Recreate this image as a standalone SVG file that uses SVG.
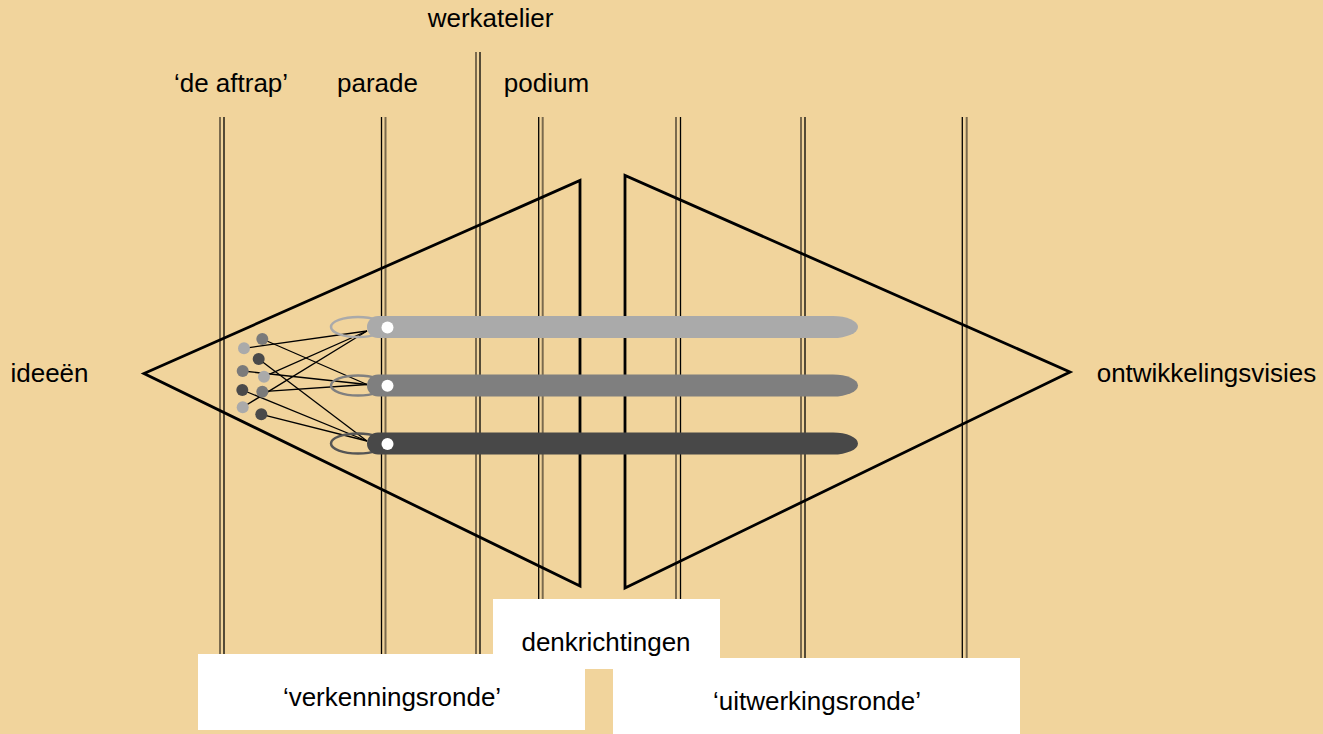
<svg xmlns="http://www.w3.org/2000/svg" width="1323" height="734" viewBox="0 0 1323 734">
<style>
.t{font-family:"Liberation Sans",Arial,sans-serif;font-size:26px;fill:#000;text-anchor:middle}
.g{stroke:#7a6a4e;stroke-width:2}
.b{stroke:#000;stroke-width:1.3}
.tri{fill:none;stroke:#000;stroke-width:2.8;stroke-linejoin:miter}
.c{stroke:#000;stroke-width:1.3}
.box{fill:#fff}
</style>
<rect width="1323" height="734" fill="#f1d49c"/>
<g id="lanes">
<line class="g" x1="220" y1="117" x2="220" y2="670"/><line class="b" x1="224" y1="117" x2="224" y2="670"/>
<line class="b" x1="381.5" y1="117" x2="381.5" y2="670"/><line class="g" x1="385.5" y1="117" x2="385.5" y2="670"/>
<line class="g" x1="476" y1="52" x2="476" y2="670"/><line class="b" x1="480" y1="52" x2="480" y2="670"/>
<line class="b" x1="538.7" y1="117" x2="538.7" y2="670"/><line class="g" x1="542.7" y1="117" x2="542.7" y2="670"/>
<line class="g" x1="676" y1="117" x2="676" y2="670"/><line class="b" x1="680.5" y1="117" x2="680.5" y2="670"/>
<line class="g" x1="801" y1="117" x2="801" y2="670"/><line class="b" x1="805" y1="117" x2="805" y2="670"/>
<line class="b" x1="962.3" y1="117" x2="962.3" y2="670"/><line class="g" x1="966.7" y1="117" x2="966.7" y2="670"/>
</g>
<g id="labels">
<text class="t" x="231" y="92">‘de aftrap’</text>
<text class="t" x="377.5" y="92">parade</text>
<text class="t" x="490.5" y="27">werkatelier</text>
<text class="t" x="546.5" y="92">podium</text>
<text class="t" x="49.5" y="382">ideeën</text>
<text class="t" x="1206.5" y="382">ontwikkelingsvisies</text>
</g>
<g id="funnel-left"><polygon class="tri" points="144,373.5 580,180.5 580,586"/></g>
<g id="funnel-right"><polygon class="tri" points="1070,372 625,175.5 625,588"/></g>
<g id="connectors">
<line class="c" x1="244" y1="348.3" x2="367" y2="331"/>
<line class="c" x1="264" y1="376.7" x2="367" y2="331"/>
<line class="c" x1="242.7" y1="407.3" x2="367" y2="331"/>
<line class="c" x1="262.3" y1="339" x2="367" y2="384.5"/>
<line class="c" x1="242.7" y1="371" x2="367" y2="384.5"/>
<line class="c" x1="262.3" y1="391.7" x2="367" y2="384.5"/>
<line class="c" x1="258.7" y1="359" x2="367" y2="441"/>
<line class="c" x1="242.3" y1="390" x2="367" y2="441"/>
<line class="c" x1="261.3" y1="414.3" x2="367" y2="441"/>
</g>
<g id="dots">
<circle cx="244" cy="348.3" r="6" fill="#aaa"/>
<circle cx="262.3" cy="339" r="6" fill="#7a7a7a"/>
<circle cx="258.7" cy="359" r="6" fill="#4a4a4a"/>
<circle cx="242.7" cy="371" r="6" fill="#7a7a7a"/>
<circle cx="264" cy="376.7" r="6" fill="#aaa"/>
<circle cx="242.3" cy="390" r="6" fill="#4a4a4a"/>
<circle cx="262.3" cy="391.7" r="6" fill="#7a7a7a"/>
<circle cx="242.7" cy="407.3" r="6" fill="#aaa"/>
<circle cx="261.3" cy="414.3" r="6" fill="#4a4a4a"/>
</g>
<g id="track-light">
<ellipse cx="358" cy="327" rx="27" ry="10" fill="none" stroke="#aaa" stroke-width="2.5"/>
<path d="M378,316 H833 A25,11 0 0 1 833,338 H378 A11,11 0 0 1 378,316 Z" fill="#aaa"/>
<circle cx="387.5" cy="327.5" r="6" fill="#fff"/>
</g>
<g id="track-mid">
<ellipse cx="358" cy="385.5" rx="27" ry="10" fill="none" stroke="#808080" stroke-width="2.5"/>
<path d="M378,374.5 H833 A25,11 0 0 1 833,396.5 H378 A11,11 0 0 1 378,374.5 Z" fill="#7f7f7f"/>
<circle cx="387.5" cy="385.7" r="6" fill="#fff"/>
</g>
<g id="track-dark">
<ellipse cx="358" cy="443.5" rx="27" ry="10" fill="none" stroke="#555" stroke-width="2.5"/>
<path d="M378,432.5 H833 A25,11 0 0 1 833,454.5 H378 A11,11 0 0 1 378,432.5 Z" fill="#484848"/>
<circle cx="387.5" cy="444" r="6" fill="#fff"/>
</g>
<g id="denkrichtingen"><rect class="box" x="493" y="599" width="227" height="70"/><text class="t" x="606" y="651">denkrichtingen</text></g>
<g id="verkenningsronde"><rect class="box" x="198" y="654" width="387" height="76"/><text class="t" x="392" y="706">‘verkenningsronde’</text></g>
<g id="uitwerkingsronde"><rect class="box" x="613" y="658" width="407" height="76"/><text class="t" x="817" y="710">‘uitwerkingsronde’</text></g>
</svg>
